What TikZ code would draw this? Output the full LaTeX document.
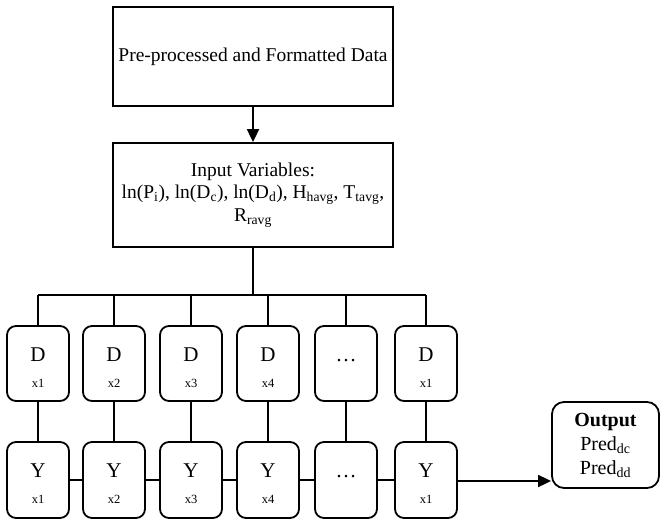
\documentclass[tikz,border=0pt]{standalone}
\usepackage{fontspec}
\setmainfont{Liberation Serif}
\usetikzlibrary{arrows.meta}
\begin{document}
\begin{tikzpicture}[x=1pt,y=-1pt,
  line width=1.8pt,
  bigbox/.style={draw, rectangle, minimum width=280pt, inner sep=0pt},
  cell/.style={draw, rectangle, rounded corners=9pt, minimum width=62pt, minimum height=75pt, inner sep=0pt},
  big/.style={font=\fontsize{19.5}{22.5}\selectfont},
  letter/.style={font=\fontsize{21}{24}\selectfont, anchor=base, inner sep=0pt},
  small/.style={font=\fontsize{12.5}{14}\selectfont, anchor=base, inner sep=0pt},
  tip/.style={-{Triangle[length=13pt,width=12pt]}},
  wire/.style={line width=1.8pt}
]
\useasboundingbox (0,0) rectangle (660,522);

% top blocks
\node[bigbox, minimum height=99pt, big] (data) at (253,56.5) {Pre-processed and Formatted Data};
\node[bigbox, minimum height=104pt, big, align=center] (vars) at (253,195)
  {Input Variables:\\
   ln(P\textsubscript{i}), ln(D\textsubscript{c}), ln(D\textsubscript{d}), H\textsubscript{havg}, T\textsubscript{tavg},\\
   R\textsubscript{ravg}};
\draw[tip] (data.south) -- (vars.north);

% distribution bus
\coordinate (bus) at (253,295);
\coordinate (busL) at (38,295);
\coordinate (busR) at (426,295);
\draw[wire] (vars.south) -- (bus);
\draw[wire] (busL) -- (busR);

% D row and Y row
\foreach \i/\cx/\head/\sub in {1/38/D/x1, 2/114/D/x2, 3/191/D/x3, 4/268/D/x4, 5/346/\dots/, 6/426/D/x1}{
  \node[cell] (d\i) at (\cx,363.5) {};
  \node[letter] (dt\i) at (\cx,361) {\head};
  \node[small] (ds\i) at (\cx,387) {\sub};
  \draw[wire] (\cx,295) -- (d\i.north);
}
\foreach \i/\cx/\head/\sub in {1/38/Y/x1, 2/114/Y/x2, 3/191/Y/x3, 4/268/Y/x4, 5/346/\dots/, 6/426/Y/x1}{
  \node[cell, minimum height=76pt] (y\i) at (\cx,480) {};
  \node[letter] (yt\i) at (\cx,477.5) {\head};
  \node[small] (ys\i) at (\cx,503.5) {\sub};
  \draw[wire] (d\i.south) -- (y\i.north);
}
\foreach \a/\b in {1/2,2/3,3/4,4/5,5/6}{
  \draw[wire] (y\a.east) -- (y\b.west);
}

% output
\node[draw, rectangle, rounded corners=12pt, minimum width=107pt, minimum height=86pt,
      inner sep=0pt, align=center, font=\fontsize{20}{24}\selectfont] (out) at (605.5,445)
  {\textbf{Output}\\Pred\textsubscript{dc}\\Pred\textsubscript{dd}};
\draw[tip] (y6.east) ++(0,1) -- (out.west |- 0,481);
\end{tikzpicture}
\end{document}
